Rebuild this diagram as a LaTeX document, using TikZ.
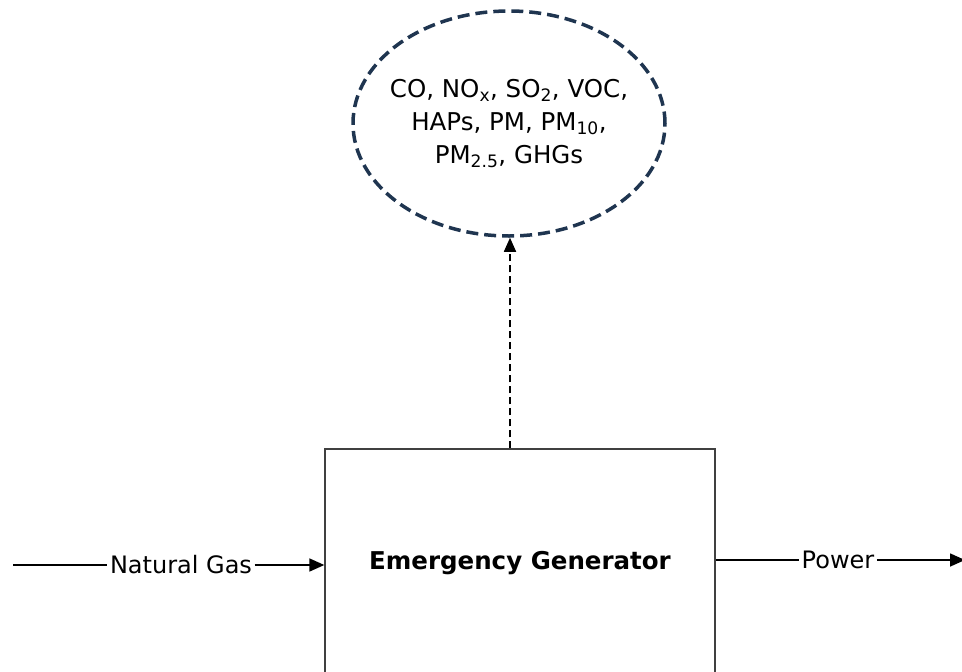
\documentclass[tikz,border=0pt]{standalone}
\usepackage{fontspec}
\setmainfont{DejaVu Sans}
\usetikzlibrary{arrows.meta,shapes.geometric}
\definecolor{navy}{HTML}{1F3550}
\definecolor{boxgray}{HTML}{404040}
\tikzset{
  flow/.style={line width=1.6pt, black},
  arr/.style={flow, -{Triangle[length=15pt,width=13pt]}},
  lbl/.style={font=\fontsize{24}{28}\selectfont, inner sep=2.5pt},
  genbox/.style={draw=boxgray, line width=1.3pt, minimum width=390pt, minimum height=228pt, font=\fontsize{24.5}{29}\selectfont\bfseries},
  emis/.style={ellipse, draw=navy, line width=3.5pt, dash pattern=on 12pt off 6pt, minimum width=312pt, minimum height=225pt, align=center, inner xsep=-40pt, inner ysep=-20pt, font=\fontsize{24.5}{33}\selectfont},
}
\begin{document}
\begin{tikzpicture}[x=1pt,y=-1pt]
\useasboundingbox (0,0) rectangle (962,672);
\node[genbox] (gen) at (520,563) {Emergency Generator};
\node[emis] (em) at (509,123.5) {CO, NO\textsubscript{x}, SO\textsubscript{2}, VOC,\\HAPs, PM, PM\textsubscript{10},\\PM\textsubscript{2.5}, GHGs};
\draw[flow, -{Triangle[length=14pt,width=12pt]}, dash pattern=on 7pt off 4pt] (gen.north -| 510,0) -- (em.south -| 510,0);
\coordinate (ngs) at (13,565);
\node[lbl] (ng) at (181,565) {Natural Gas};
\draw[flow] (ngs) -- (ng);
\draw[arr] (ng) -- (gen.west |- ng);
\node[lbl] (pw) at (838,560) {Power};
\coordinate (pwe) at (965,560);
\draw[flow] (gen.east |- pw) -- (pw);
\draw[arr] (pw) -- (pwe);
\end{tikzpicture}
\end{document}
